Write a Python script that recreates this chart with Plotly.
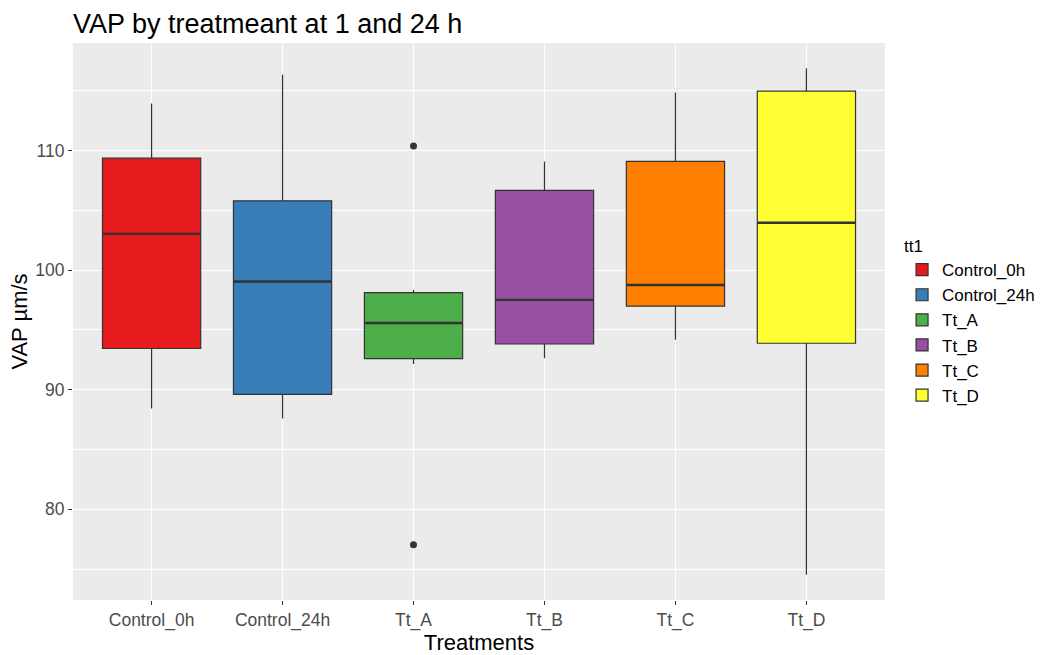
import plotly.graph_objects as go

categories = ["Control_0h", "Control_24h", "Tt_A", "Tt_B", "Tt_C", "Tt_D"]
lower_whisker = [88.43, 87.59, 92.15, 92.63, 94.18, 74.54]
q1_values = [93.45, 89.62, 92.61, 93.83, 97.00, 93.89]
median_values = [103.04, 99.05, 95.58, 97.52, 98.76, 103.97]
q3_values = [109.37, 105.80, 98.12, 106.68, 109.10, 114.98]
upper_whisker = [113.95, 116.35, 98.34, 109.10, 114.86, 116.88]
outlier_groups = ["Tt_A", "Tt_A"]
outlier_values = [110.38, 77.03]
fill_colors = ["#E41A1C", "#377EB8", "#4DAF4A", "#984EA3", "#FF7F00", "#FFFF33"]

FONT = "Arial, 'Liberation Sans', sans-serif"
BOX_W = 0.75

fig = go.Figure()
positions = list(range(1, len(categories) + 1))
for i, cat in enumerate(categories):
    fig.add_trace(go.Box(
        name=cat,
        x=[positions[i]],
        q1=[q1_values[i]],
        median=[median_values[i]],
        q3=[q3_values[i]],
        lowerfence=[lower_whisker[i]],
        upperfence=[upper_whisker[i]],
        width=BOX_W,
        whiskerwidth=0,
        boxpoints=False,
        fillcolor=fill_colors[i],
        line=dict(color="#333333", width=1.2),
        showlegend=True,
        hoverinfo="skip",
    ))

# thicker median lines (ggplot style)
for i, cat in enumerate(categories):
    fig.add_trace(go.Scatter(
        x=[positions[i] - BOX_W / 2, positions[i] + BOX_W / 2],
        y=[median_values[i], median_values[i]],
        mode="lines",
        line=dict(color="#333333", width=2.4),
        showlegend=False,
        hoverinfo="skip",
    ))

fig.add_trace(go.Scatter(
    x=[positions[categories.index(g)] for g in outlier_groups],
    y=outlier_values,
    mode="markers",
    marker=dict(color="#333333", size=7),
    showlegend=False,
    hoverinfo="skip",
))

fig.update_layout(
    width=1046, height=655,
    paper_bgcolor="white",
    plot_bgcolor="#EBEBEB",
    margin=dict(l=73, r=161, t=43, b=55, autoexpand=False),
    font=dict(family=FONT, color="#000000"),
    title=dict(
        text="VAP by treatmeant at 1 and 24 h",
        font=dict(family=FONT, size=27, color="#000000"),
        x=73 / 1046, xref="container", xanchor="left",
        y=1 - 24 / 655, yref="container", yanchor="middle",
    ),
    boxmode="overlay",
    legend=dict(
        title=dict(text="tt1", font=dict(size=17, color="#000000")),
        font=dict(size=17, color="#000000"),
        x=1.021, xanchor="left",
        y=0.5, yanchor="middle",
        bgcolor="rgba(0,0,0,0)",
        tracegroupgap=0,
    ),
    showlegend=True,
)

fig.update_xaxes(
    range=[0.4, 6.6],
    tickmode="array",
    tickvals=positions,
    ticktext=categories,
    showgrid=True, gridcolor="white", gridwidth=1.1,
    zeroline=False, showline=False,
    ticks="outside", ticklen=4, tickwidth=1.1, tickcolor="#333333",
    tickfont=dict(family=FONT, size=17.5, color="#4D4D4D"),
    title=dict(text="Treatments", font=dict(family=FONT, size=22, color="#000000"), standoff=2),
    automargin=False,
)
fig.update_yaxes(
    range=[72.42, 119.0],
    tickmode="array",
    tickvals=[80, 90, 100, 110],
    showgrid=True, gridcolor="white", gridwidth=1.1,
    minor=dict(tickvals=[75, 85, 95, 105, 115], showgrid=True, gridcolor="white", gridwidth=0.55, ticks=""),
    zeroline=False, showline=False,
    ticks="outside", ticklen=4, tickwidth=1.1, tickcolor="#333333",
    tickfont=dict(family=FONT, size=17.5, color="#4D4D4D"),
    title=dict(text="VAP µm/s", font=dict(family=FONT, size=22, color="#000000"), standoff=1),
    automargin=False,
)

fig.write_html(
    "out.html",
    config={"displayModeBar": False},
    post_script="document.body.style.margin='0px';document.body.style.padding='0px';",
)
